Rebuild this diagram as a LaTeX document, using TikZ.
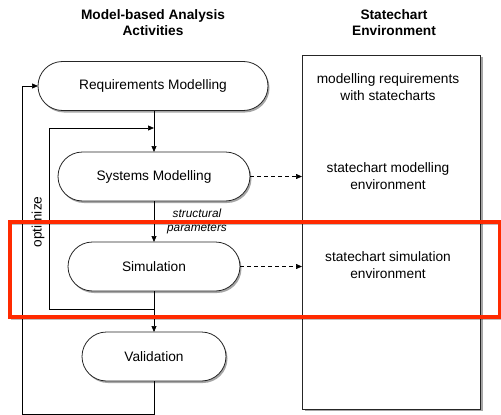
\documentclass[tikz,border=0pt]{standalone}
\usepackage{fontspec}
\setmainfont{Liberation Sans}
\usetikzlibrary{arrows.meta,shadows,calc}
\begin{document}
\begin{tikzpicture}[x=1pt,y=-1pt,
  every node/.style={inner sep=0pt,outer sep=0pt},
  tip/.style={-{Triangle[length=6pt,width=5pt]}},
  act/.style={draw=black!85,line width=0.8pt,fill=white,rounded corners=24.5pt,
     minimum height=49pt,font=\fontsize{13.7}{16.5}\selectfont,
     drop shadow={shadow xshift=1.5pt,shadow yshift=-2pt,opacity=0.35,fill=black}},
  envtext/.style={align=center,font=\fontsize{13.7}{16.5}\selectfont},
  title/.style={align=center,font=\fontsize{13.7}{16}\selectfont\bfseries},
  conn/.style={line width=0.7pt,black},
  dconn/.style={line width=0.7pt,black,dashed,dash pattern=on 4pt off 3pt}
]
\useasboundingbox (0,0) rectangle (501,415);
% titles
\node[title] (t1) at (153,23) {Model-based Analysis\\Activities};
\node[title] (t2) at (394,23) {Statechart\\Environment};
% environment box
\node[draw=black!85,line width=0.8pt,fill=white,minimum width=178pt,minimum height=354pt,
  drop shadow={shadow xshift=2.5pt,shadow yshift=-2pt,opacity=0.35,fill=black}] (env) at (391,232) {};
\node[envtext] (e1) at (388,87) {modelling requirements\\with statecharts};
\node[envtext] (e2) at (388,176) {statechart modelling\\environment};
\node[envtext] (e3) at (388,265) {statechart simulation\\environment};
% activities
\node[act,minimum width=230pt] (req) at (153,86) {Requirements Modelling};
\node[act,minimum width=192pt] (sys) at (154,176.5) {Systems Modelling};
\node[act,minimum width=172pt] (sim) at (154,266.5) {Simulation};
\node[act,minimum width=144pt] (val) at (154,356.5) {Validation};
% coordinates
\coordinate (inA) at (154,128);
\coordinate (inB) at (154,309);
\coordinate (outB) at (154,414);
% connectors
\draw[conn,tip] (req.south -| inA) -- (sys.north -| inA);
\draw[conn,tip] (sys.south -| inA) -- (sim.north -| inA);
\draw[conn,tip] (sim.south -| inA) -- (val.north -| inA);
\draw[conn,tip] (inB) -- (49,309) -- (49,128) -- (inA);
\draw[conn,tip] (val.south -| outB) -- (outB) -- (22,414) -- (22,86) -- (req.west);
\draw[dconn,tip] (sys.east) -- (sys.east -| env.west);
\draw[dconn,tip] (sim.east) -- (sim.east -| env.west);
% labels
\node[align=center,font=\fontsize{11.8}{14}\selectfont\itshape] (sp) at (197,221) {structural\\parameters};
\node[rotate=90,font=\fontsize{13.7}{16}\selectfont] (opt) at (38,222) {optimize};
% highlight
\draw[line width=4pt,color={rgb,255:red,255;green,42;blue,0},
  drop shadow={shadow xshift=1pt,shadow yshift=-2pt,opacity=0.25,fill=none,draw=black}] (10,222) rectangle (499.5,317);
\end{tikzpicture}
\end{document}
